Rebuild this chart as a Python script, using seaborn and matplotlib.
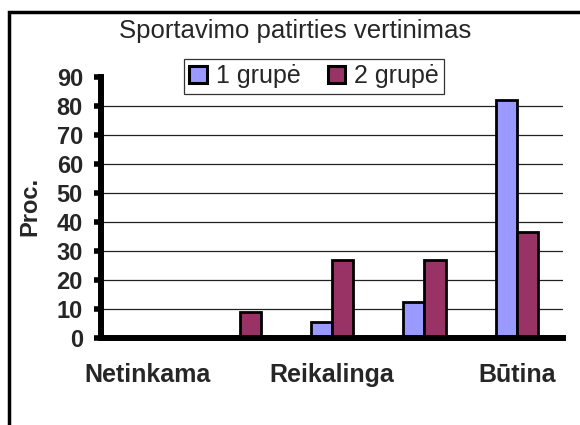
import pandas as pd
import seaborn as sns
import matplotlib.pyplot as plt
from matplotlib.patches import Rectangle

# data
categories = ["Netinkama", "Mažai reikalinga", "Reikalinga", "Labai reikalinga", "Būtina"]
tick_labels = ["Netinkama", "", "Reikalinga", "", "Būtina"]
grupe1 = [0, 0, 5.5, 12.5, 82]
grupe2 = [0, 9, 27, 27, 36.5]
groups = ["1 grupė", "2 grupė"]
colors = ["#9999FF", "#993366"]

df = pd.DataFrame({
    "Kategorija": categories * 2,
    "Grupė": [groups[0]] * 5 + [groups[1]] * 5,
    "Proc": grupe1 + grupe2,
})

sns.set_style("white")
plt.rcParams['font.family'] = ['Liberation Sans', 'DejaVu Sans']

fig = plt.figure(figsize=(5.8, 4.25), dpi=100)
ax = fig.add_axes([101/580, 1 - 338/425, 462/580, 261/425])

sns.barplot(data=df, x="Kategorija", y="Proc", hue="Grupė", order=categories,
            palette=colors, width=0.46, gap=0, edgecolor="black", linewidth=2,
            saturation=1, ax=ax, zorder=3)

ax.set_xlim(-0.5, 4.5)
ax.set_ylim(0, 90)
ax.set_yticks(range(0, 91, 10))
ax.set_yticklabels([str(v) for v in range(0, 91, 10)], fontsize=17, fontweight="bold")
ax.set_xticks(range(5))
ax.set_xticklabels(tick_labels, fontsize=18, fontweight="bold")
ax.set_xticks([i - 0.5 for i in range(6)], minor=True)
ax.tick_params(axis="x", which="major", length=0, pad=18)
ax.tick_params(axis="x", which="minor", length=5, width=4, direction="out", color="black")
ax.tick_params(axis="y", length=5, width=4, direction="out", color="black", pad=8, left=True)

for y in range(10, 90, 10):
    ax.axhline(y, color="#222222", linewidth=0.9, zorder=1)

for s in ["top", "right"]:
    ax.spines[s].set_visible(False)
for s in ["left", "bottom"]:
    ax.spines[s].set_linewidth(4.3)
    ax.spines[s].set_color("black")
    ax.spines[s].set_zorder(5)

ax.set_xlabel("")
ax.set_ylabel("")
fig.text(30/580, 1 - 206/425, "Proc.", fontsize=17, fontweight="bold",
         rotation=90, ha="center", va="center")

leg = ax.legend(loc="center", bbox_to_anchor=(314/580, 1 - 76/425),
                bbox_transform=fig.transFigure, ncol=2, fontsize=18,
                frameon=True, fancybox=False, edgecolor="black",
                handlelength=0.7, handleheight=0.7, handletextpad=0.35,
                columnspacing=1.1, borderpad=0.22, borderaxespad=0)
leg.get_frame().set_linewidth(0.9)
for h in leg.legend_handles:
    h.set_edgecolor("black")
    h.set_linewidth(2.2)

fig.text(295/580, 1 - 31/425, "Sportavimo patirties vertinimas", fontsize=18.5,
         ha="center", va="center")

fig.patches.append(Rectangle((9/580, -0.1), 1.2, 1.1 - 12/425, transform=fig.transFigure,
                             fill=False, edgecolor="black", linewidth=2.5))

fig.savefig("out.png", dpi=100)
